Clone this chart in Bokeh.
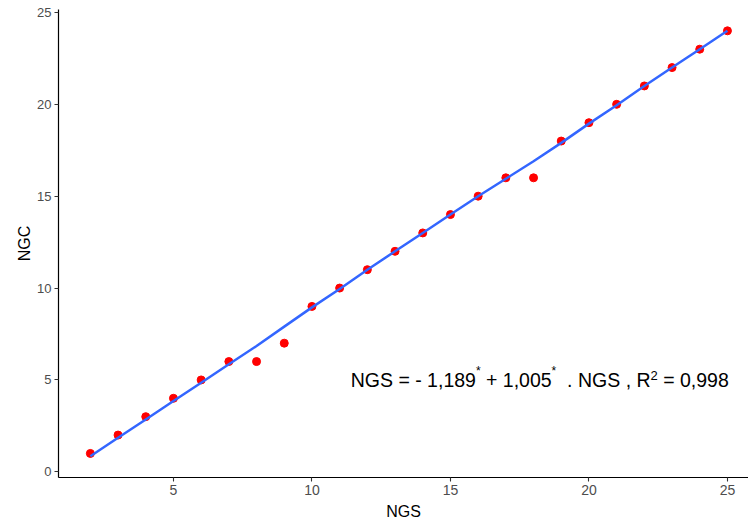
from bokeh.plotting import figure
from bokeh.models import FixedTicker, Range1d, ColumnDataSource
from bokeh.core.properties import value
from bokeh.embed import file_html
from bokeh.resources import INLINE

# Observed points
ngs = [2, 3, 4, 5, 6, 7, 8, 9, 10, 11, 12, 13, 14, 15, 16, 17, 18, 19, 20, 21, 22, 23, 24, 25]
ngc = [1, 2, 3, 4, 5, 6, 6, 7, 9, 10, 11, 12, 13, 14, 15, 16, 16, 18, 19, 20, 21, 22, 23, 24]

# Smoothed fit
fit_x = [2, 3, 4, 5, 6, 7, 8, 9, 10, 11, 12, 13, 14, 15, 16, 17, 18, 19, 20, 21, 22, 23, 24, 25]
fit_y = [0.85, 1.85, 2.85, 3.85, 4.85, 5.85, 6.85, 7.9, 8.95, 9.95, 11.0, 12.0, 13.0, 14.0,
         15.0, 15.95, 16.9, 17.9, 18.95, 19.95, 21.0, 22.0, 23.0, 24.0]

x_ticks = [5, 10, 15, 20, 25]
y_ticks = [0, 5, 10, 15, 20, 25]

# Equation annotation pieces: (text, kind)
eq_pieces = [("NGS = - 1,189", "main"), ("*", "star"), (" + 1,005", "main"), ("*", "star"),
             ("  . NGS , R", "main"), ("2", "sup"), (" = 0,998", "main")]
eq_x = 11.4
eq_y = 5

FONT = "Liberation Sans"

p = figure(frame_width=690, frame_height=468, output_backend="svg", toolbar_location=None,
           x_range=Range1d(0.85, 25.76), y_range=Range1d(-0.31, 25.16),
           min_border_left=58, min_border_right=0, min_border_top=9, min_border_bottom=42)

p.background_fill_color = "white"
p.border_fill_color = "white"
p.outline_line_color = None
p.grid.visible = False

for ax in (p.xaxis[0], p.yaxis[0]):
    ax.axis_line_color = "black"
    ax.axis_line_width = 1.2
    ax.major_tick_line_color = "#333333"
    ax.major_tick_line_width = 1.1
    ax.major_tick_in = 0
    ax.major_tick_out = 4
    ax.minor_tick_line_color = None
    ax.major_label_text_color = "#4D4D4D"
    ax.major_label_text_font = FONT
    ax.axis_label_text_font = FONT
    ax.axis_label_text_font_style = "normal"
    ax.axis_label_text_color = "black"
    ax.axis_label_text_font_size = "16px"
    ax.major_label_standoff = 3

p.xaxis.ticker = FixedTicker(ticks=x_ticks)
p.yaxis.ticker = FixedTicker(ticks=y_ticks)
p.xaxis.axis_label = "NGS"
p.yaxis.axis_label = "NGC"
p.xaxis.major_label_text_font_size = "14px"
p.yaxis.major_label_text_font_size = "13px"
p.xaxis.axis_label_standoff = 5
p.yaxis.axis_label_standoff = 1

src = ColumnDataSource(dict(x=ngs, y=ngc))
p.scatter("x", "y", source=src, size=8, color="#FF0000")
p.line(fit_x, fit_y, line_color="#3366FF", line_width=2.5)

# Equation text, built from pieces using Arial-compatible advance widths
adv = {"N": 722, "G": 778, "S": 667, " ": 278, "=": 584, "-": 333, "1": 556, ",": 278,
       "8": 556, "9": 556, "0": 556, "5": 556, "+": 584, ".": 278, "R": 722, "*": 389, "2": 556}
sizes = {"main": 19.5, "star": 12.0, "sup": 13.0}
shifts = {"main": 0, "star": -9, "sup": -4}
off = 0.0
for txt, kind in eq_pieces:
    fs = sizes[kind]
    stripped = txt.lstrip(" ")
    lead = (len(txt) - len(stripped)) * adv[" "] * fs / 1000.0
    p.text(x=[eq_x], y=[eq_y], text=[stripped], x_offset=off + lead, y_offset=shifts[kind],
           text_font=value(FONT), text_font_size=f"{fs}px", text_color="black",
           text_align="left", text_baseline="alphabetic")
    off += sum(adv[c] for c in txt) * fs / 1000.0

open("out.html", "w").write(file_html(p, INLINE))
